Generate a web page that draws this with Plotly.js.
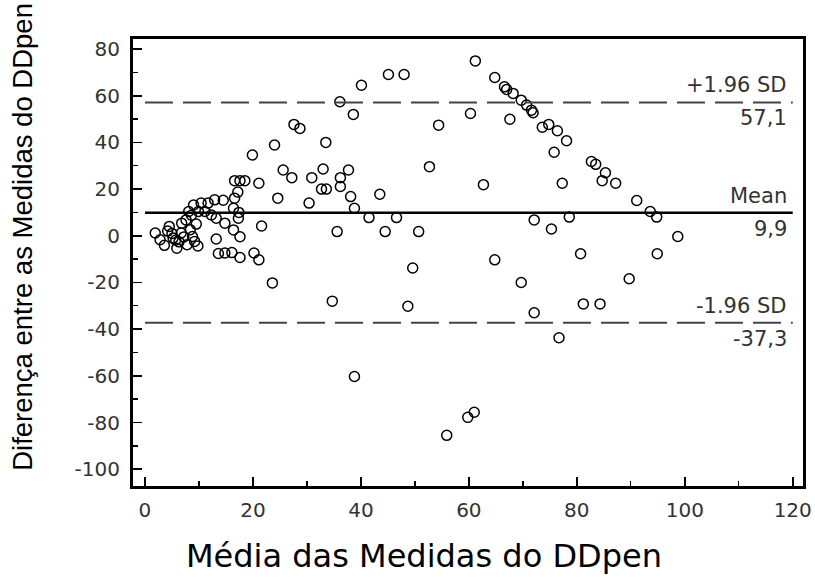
<!DOCTYPE html>
<html>
<head>
<meta charset="utf-8">
<script src="https://cdn.plot.ly/plotly-3.0.1.min.js"></script>
<style>
  html, body { margin: 0; padding: 0; background: #fff; }
  #chart { width: 815px; height: 577px; }
</style>
</head>
<body>
<div id="chart"></div>
<script>
// Bland-Altman: mean of the two DDpen measurements vs. their difference
const meanValues = [
  1.9, 2.8, 3.6, 4.2, 4.5, 5.0, 5.2, 5.7, 5.9, 6.3,
  6.7, 6.8, 7.2, 7.6, 7.8, 8.1, 8.4, 8.6, 8.8, 9.0,
  9.2, 9.5, 9.8, 9.9, 10.4, 11.1, 11.7, 12.3, 12.9, 13.2,
  13.2, 13.6, 14.5, 14.8, 14.8, 16.1, 16.4, 16.4, 16.6, 16.6,
  17.2, 17.3, 17.4, 17.6, 17.6, 17.6, 18.5, 19.9, 20.2, 21.1,
  21.1, 21.6, 23.6, 24.0, 24.6, 25.6, 27.2, 27.6, 28.7, 30.4,
  30.9, 32.7, 33.0, 33.5, 33.6, 34.7, 35.6, 36.1, 36.2, 36.2,
  37.7, 38.1, 38.6, 38.8, 38.8, 40.1, 41.5, 43.5, 44.5, 45.1,
  46.6, 48.0, 48.7, 49.6, 50.7, 52.7, 54.4, 55.9, 59.8, 60.3,
  61.0, 61.2, 62.7, 64.8, 64.8, 66.6, 67.0, 67.6, 68.2, 69.7,
  69.7, 70.7, 71.6, 71.9, 72.1, 72.1, 73.6, 74.8, 75.3, 75.8,
  76.4, 76.7, 77.3, 78.1, 78.6, 80.7, 81.2, 82.7, 83.5, 84.3,
  84.7, 85.3, 87.2, 89.7, 91.1, 93.6, 94.8, 94.9, 98.7
];
const diffValues = [
  1.2, -1.7, -4.1, 2.0, 4.0, 1.0, -1.0, -1.8, -5.3, -2.6,
  1.2, 5.4, -0.5, 6.8, -3.8, 10.4, 2.6, 8.8, -0.3, 13.2,
  -2.4, 5.0, -4.4, 10.4, 14.0, 10.4, 14.0, 8.9, 15.4, -1.4,
  7.5, -7.6, 15.2, -7.4, 5.4, -7.2, 2.5, 11.8, 16.1, 23.6,
  18.7, 7.5, 10.0, -9.3, -0.4, 23.6, 23.6, 34.6, -7.4, 22.5,
  -10.3, 4.2, -20.2, 38.9, 16.1, 28.2, 24.9, 47.7, 46.0, 14.0,
  24.9, 20.0, 28.6, 40.0, 20.0, -28.0, 1.8, 57.4, 24.9, 21.1,
  28.2, 16.8, 52.0, 11.8, -60.3, 64.5, 7.8, 17.8, 1.8, 69.1,
  7.8, 69.1, -30.2, -13.8, 1.8, 29.6, 47.4, -85.5, -77.8, 52.4,
  -75.6, 74.9, 21.9, 67.8, -10.3, 63.8, 62.7, 49.9, 61.0, 58.1,
  -20.0, 56.0, 53.8, 52.7, 6.8, -33.0, 46.5, 47.7, 2.9, 35.8,
  45.0, -43.7, 22.5, 40.7, 8.0, -7.7, -29.2, 31.8, 30.6, -29.2,
  23.6, 27.0, 22.5, -18.4, 15.1, 10.4, 8.0, -7.7, -0.3
];

// reference lines: mean difference and limits of agreement
const limitNames  = ['+1.96 SD', 'Mean', '-1.96 SD'];
const limitValues = [57.1, 9.9, -37.3];
const limitSpan   = [0, 120];

const xTicks = [0, 20, 40, 60, 80, 100, 120];
const yTicks = [80, 60, 40, 20, 0, -20, -40, -60, -80, -100];

const xTitle = 'Média das Medidas do DDpen';
const yTitle = 'Diferença entre as Medidas do DDpen';

const fmt = v => v.toFixed(1).replace('.', ',');

const traces = [{
  type: 'scatter',
  mode: 'markers',
  x: meanValues,
  y: diffValues,
  marker: { symbol: 'circle-open', size: 10, color: '#000', line: { width: 1.5, color: '#000' } },
  hoverinfo: 'x+y',
  showlegend: false
}];

limitValues.forEach((v, i) => {
  const isMean = limitNames[i] === 'Mean';
  traces.push({
    type: 'scatter',
    mode: 'lines',
    x: limitSpan,
    y: [v, v],
    line: isMean ? { color: '#000', width: 2.5 } : { color: '#444', width: 2, dash: '28px,10px' },
    hoverinfo: 'skip',
    showlegend: false
  });
});

const labelFont = { family: 'DejaVu Sans, Verdana, sans-serif', size: 21, color: '#333' };
const annotations = [];
limitValues.forEach((v, i) => {
  annotations.push({
    x: 119.3, y: v, xref: 'x', yref: 'y', xanchor: 'right', yanchor: 'middle',
    yshift: 17, text: limitNames[i], showarrow: false, font: labelFont
  });
  annotations.push({
    x: 119.3, y: v, xref: 'x', yref: 'y', xanchor: 'right', yanchor: 'middle',
    yshift: -16, text: fmt(v), showarrow: false, font: labelFont
  });
});

annotations.push({
  x: 0.434, y: -0.157, xref: 'paper', yref: 'paper', xanchor: 'center', yanchor: 'middle',
  text: xTitle, showarrow: false,
  font: { family: 'DejaVu Sans, Verdana, sans-serif', size: 32, color: '#000' }
});
annotations.push({
  x: -0.166, y: 0.557, xref: 'paper', yref: 'paper', xanchor: 'center', yanchor: 'middle',
  textangle: -90, text: yTitle, showarrow: false,
  font: { family: 'Liberation Sans, Arial, sans-serif', size: 27.5, color: '#000' }
});

const tickFont = { family: 'DejaVu Sans, Verdana, sans-serif', size: 20, color: '#333' };

const layout = {
  width: 815,
  height: 577,
  margin: { l: 133, r: 12, t: 39, b: 91 },
  paper_bgcolor: '#fff',
  plot_bgcolor: '#fff',
  xaxis: {
    range: [-2.22, 121.9],
    tickmode: 'array',
    tickvals: xTicks,
    ticktext: xTicks.map(String),
    ticks: 'inside', ticklen: 9, tickwidth: 1.6, tickcolor: '#000',
    minor: { tickmode: 'linear', tick0: 10, dtick: 20, ticks: 'inside', ticklen: 5, tickwidth: 1.4, tickcolor: '#000', showgrid: false },
    showline: true, linewidth: 3, linecolor: '#000', mirror: true,
    showgrid: false, zeroline: false,
    tickfont: tickFont,
    ticklabelstandoff: 4
  },
  yaxis: {
    range: [-107.2, 84.3],
    tickmode: 'array',
    tickvals: yTicks,
    ticktext: yTicks.map(String),
    ticks: 'inside', ticklen: 9, tickwidth: 1.6, tickcolor: '#000',
    minor: { tickmode: 'linear', tick0: 10, dtick: 20, ticks: 'inside', ticklen: 5, tickwidth: 1.4, tickcolor: '#000', showgrid: false },
    showline: true, linewidth: 3, linecolor: '#000', mirror: true,
    showgrid: false, zeroline: false,
    tickfont: tickFont,
    ticklabelstandoff: 6
  },
  annotations: annotations,
  showlegend: false
};

Plotly.newPlot('chart', traces, layout, { displayModeBar: false, staticPlot: true });
</script>
</body>
</html>
